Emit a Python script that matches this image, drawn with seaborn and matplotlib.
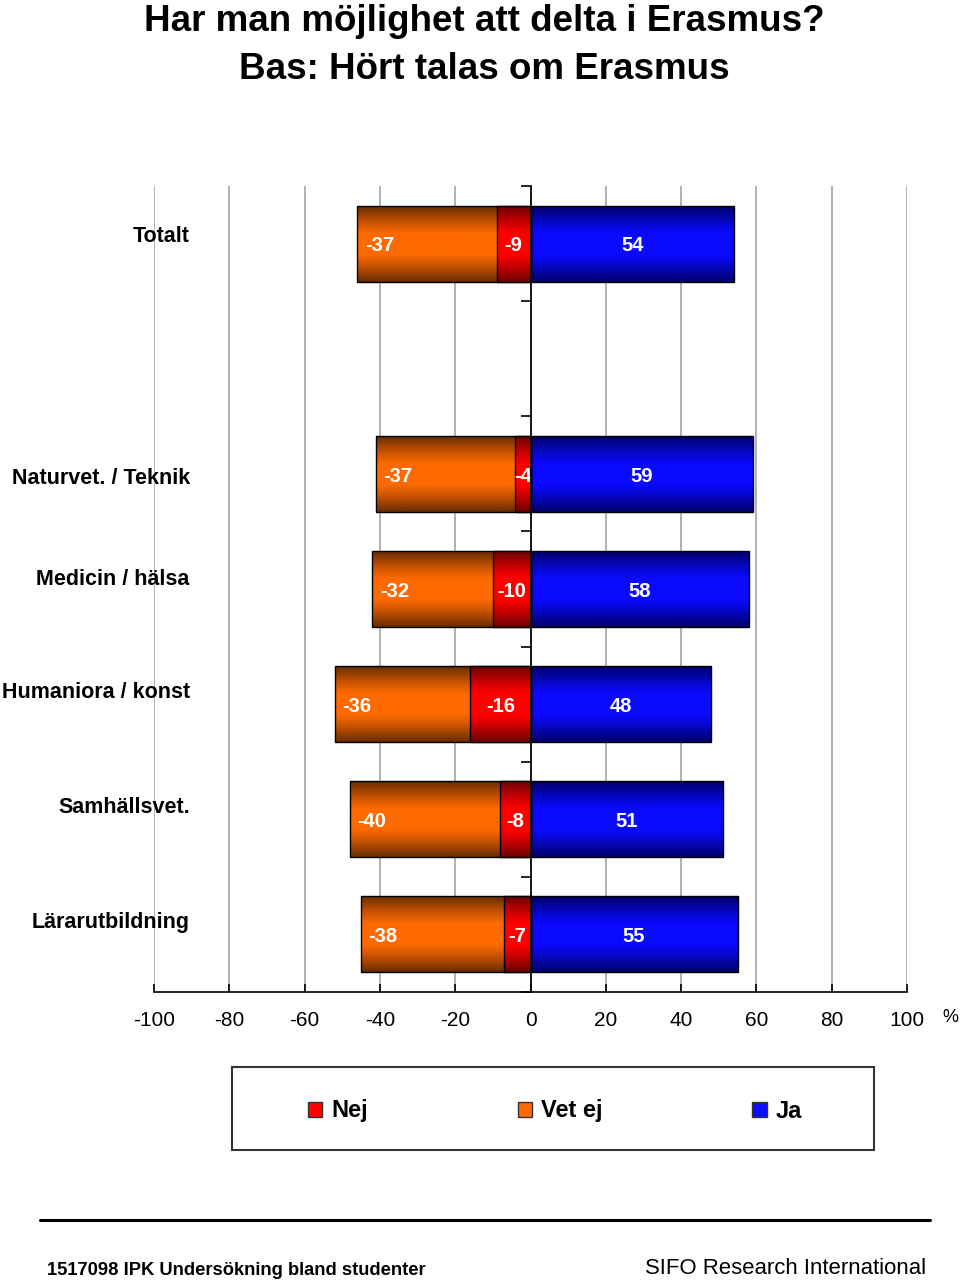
import numpy as np
import pandas as pd
import matplotlib
matplotlib.use("Agg")
import matplotlib.pyplot as plt
from matplotlib.patches import Patch, Rectangle
from matplotlib.lines import Line2D
import seaborn as sns

# ---------------- data ----------------
categories = ["Totalt", " ", "Naturvet. / Teknik", "Medicin / hälsa",
              "Humaniora / konst", "Samhällsvet.", "Lärarutbildning"]
nej = [9, np.nan, 4, 10, 16, 8, 7]
vet_ej = [37, np.nan, 37, 32, 36, 40, 38]
ja = [54, np.nan, 59, 58, 48, 51, 55]
series_names = ["Nej", "Vet ej", "Ja"]
x_ticks = [-100, -80, -60, -40, -20, 0, 20, 40, 60, 80, 100]

title1 = "Har man möjlighet att delta i Erasmus?"
title2 = "Bas: Hört talas om Erasmus"
footer_left = "1517098 IPK Undersökning bland studenter"
footer_right = "SIFO Research International"

# ---------------- style ----------------
sns.set_style("white")
plt.rcParams["font.family"] = ["Liberation Sans", "DejaVu Sans"]
plt.rcParams["text.color"] = "black"
plt.rcParams["axes.labelcolor"] = "black"
plt.rcParams["xtick.color"] = "black"
plt.rcParams["ytick.color"] = "black"

col_bright = {"Nej": "#FF0000", "Vet ej": "#FF6A00", "Ja": "#0A0AFF"}
col_dark = {"Nej": "#6E0000", "Vet ej": "#6A2C00", "Ja": "#00006A"}

df = pd.DataFrame({"kategori": categories, "nej": nej, "vet_ej": vet_ej, "ja": ja})
df["neg_total"] = -(df["nej"] + df["vet_ej"])
df["neg_nej"] = -df["nej"]

fig = plt.figure(figsize=(9.6, 12.81), dpi=100)
W, H = 960, 1281
ax = fig.add_axes([154 / W, 1 - 992 / H, (907 - 154) / W, (992 - 186) / H])

bar_w = 0.66
groups = {}
for key, col, name in [("neg_total", "Vet ej", "Vet ej"),
                       ("neg_nej", "Nej", "Nej"),
                       ("ja", "Ja", "Ja")]:
    before = len(ax.patches)
    sns.barplot(data=df, y="kategori", x=key, order=categories, orient="h",
                color=col_bright[col], width=bar_w, edgecolor="black",
                linewidth=1.0, errorbar=None, ax=ax)
    groups[name] = ax.patches[before:]


def gradient(name, n=64):
    s = np.abs(np.linspace(-1, 1, n))
    w = np.clip((s - 0.25) / 0.75, 0, 1) ** 1.2
    b = np.array(matplotlib.colors.to_rgb(col_bright[name]))
    d = np.array(matplotlib.colors.to_rgb(col_dark[name]))
    img = b[None, :] * (1 - w[:, None]) + d[None, :] * w[:, None]
    return img[:, None, :]


zbase = {"Vet ej": 2.0, "Nej": 2.2, "Ja": 2.0}
for name, patches in groups.items():
    g = gradient(name)
    for p in patches:
        bb = p.get_bbox()
        if not np.isfinite(bb.width) or bb.width == 0:
            continue
        im = ax.imshow(g, extent=[bb.x0, bb.x1, bb.y1, bb.y0], aspect="auto",
                       zorder=zbase[name], interpolation="bilinear")
        im.set_clip_path(p)
        p.set_facecolor("none")
        p.set_zorder(zbase[name] + 0.05)

# category label vertical nudges (fraction of a slot)
label_dy = [-0.06, 0, 0.04, -0.08, -0.10, -0.10, -0.10]

lab_kw = dict(color="white", fontsize=14.5, fontweight="bold", va="center", zorder=5)
for i, cat in enumerate(categories):
    if np.isnan(ja[i]):
        continue
    left = -(nej[i] + vet_ej[i])
    ax.text(left + 2.0, i + 0.02, f"-{vet_ej[i]:.0f}", ha="left", **lab_kw)
    ax.text(-nej[i] / 2, i + 0.02, f"-{nej[i]:.0f}", ha="center", **lab_kw)
    ax.text(ja[i] / 2, i + 0.02, f"{ja[i]:.0f}", ha="center", **lab_kw)
    ax.text(-90.5, i + label_dy[i], cat, ha="right", va="center", fontsize=15.5,
            fontweight="bold", color="black", clip_on=False)

# axes
ax.set_xlim(-100, 100)
ax.set_ylim(len(categories) - 0.5, -0.5)
ax.set_xticks(x_ticks)
ax.set_xticklabels([str(t) for t in x_ticks])
ax.set_yticks(np.arange(-0.5, len(categories), 1.0))
ax.set_yticklabels([])
ax.set_xlabel("")
ax.set_ylabel("")
ax.xaxis.grid(True, color="#ABABAB", linewidth=1.3, zorder=0)
ax.yaxis.grid(False)
ax.set_axisbelow(True)
for s in ["top", "right"]:
    ax.spines[s].set_visible(False)
ax.spines["left"].set_position(("data", 0))
ax.spines["left"].set_color("black")
ax.spines["left"].set_linewidth(1.2)
ax.spines["left"].set_zorder(6)
ax.spines["bottom"].set_color("black")
ax.spines["bottom"].set_linewidth(1.2)
ax.tick_params(axis="y", direction="out", length=7, width=1.2, color="black", left=True)
ax.tick_params(axis="x", direction="in", length=6, width=1.2, color="black",
               labelsize=15, labelcolor="black", pad=14, bottom=True)
fig.text(950 / W, 1 - 1017 / H, "%", fontsize=13, ha="center", va="center")

# titles
fig.text(484 / W, 1 - 31 / H, title1, ha="center", va="baseline",
         fontsize=26.5, fontweight="bold")
fig.text(484 / W, 1 - 79 / H, title2, ha="center", va="baseline",
         fontsize=26.5, fontweight="bold")

# legend
fig.patches.append(Rectangle((232 / W, 1 - 1150 / H), (874 - 232) / W, (1150 - 1067) / H,
                             transform=fig.transFigure, facecolor="white",
                             edgecolor="#333333", linewidth=1.5))
handles = [Patch(facecolor=col_bright[n], edgecolor="#333333", linewidth=1.0)
           for n in series_names]
fig.legend(handles, series_names, ncol=3, frameon=False, loc="center",
           bbox_to_anchor=(555 / W, 1 - 1111 / H),
           prop={"weight": "bold", "size": 17},
           handlelength=0.6, handleheight=0.6, handletextpad=0.38,
           columnspacing=6.35, borderpad=0.2)

# footer
fig.add_artist(Line2D([40 / W, 930 / W], [1 - 1220 / H, 1 - 1220 / H],
                      transform=fig.transFigure, color="black", linewidth=2.2))
fig.text(47 / W, 1 - 1275 / H, footer_left, ha="left", va="baseline",
         fontsize=13.2, fontweight="bold")
fig.text(926 / W, 1 - 1274 / H, footer_right, ha="right", va="baseline",
         fontsize=15.9)

fig.savefig("out.png", dpi=100)
